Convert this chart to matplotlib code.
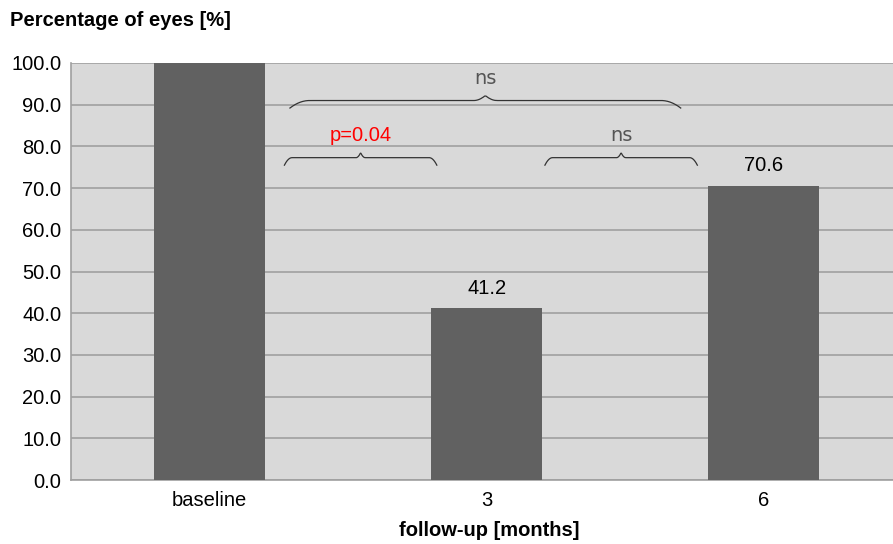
import numpy as np
import matplotlib.pyplot as plt

plt.rcParams['font.family'] = ['Liberation Sans', 'DejaVu Sans']

categories = ['baseline', '3', '6']
values = [100.0, 41.2, 70.6]
value_labels = ['', '41.2', '70.6']
yticks = np.arange(0, 101, 10)

# comparisons: (x start, x end, y base, label, colour)
brackets = [
    (0.29, 1.70, 89.2, 'ns', '#555555'),
    (0.27, 0.82, 75.5, 'p=0.04', 'red'),
    (1.21, 1.76, 75.5, 'ns', '#555555'),
]


def brace(ax, x0, x1, y, h):
    # curly brace drawn as a polyline
    t = np.linspace(0, 1, 300)
    xs = x0 + (x1 - x0) * t
    s = np.abs(t - 0.5) * 2
    ys = (y + h * (0.6 + 0.4 * (1 - np.clip(s / 0.06, 0, 1)) ** 2)
          - h * 0.6 * np.clip((s - 0.9) / 0.1, 0, 1) ** 2)
    ax.plot(xs, ys, color='#333333', lw=0.9)


fig = plt.figure(figsize=(8.93, 5.44), dpi=100)
ax = fig.add_axes([71 / 893, 64 / 544, 1 - 71 / 893, 417 / 544])
ax.set_facecolor('#d9d9d9')
x = np.arange(len(categories))
ax.bar(x, values, width=0.4, color='#616161', zorder=3)
for i, (v, lab) in enumerate(zip(values, value_labels)):
    if lab:
        ax.text(i, v + 4.8, lab, ha='center', va='center', fontsize=14.5)

ax.set_xlim(-0.5, 2.466)
ax.set_ylim(0, 100)
ax.set_yticks(yticks)
ax.set_yticklabels(['%.1f' % t for t in yticks], fontsize=14.5)
ax.set_xticks(x)
ax.set_xticklabels(categories, fontsize=14.5)
ax.tick_params(axis='y', length=0, pad=7)
ax.tick_params(axis='x', length=0, pad=8)
ax.yaxis.grid(True, color='#a0a0a0', lw=1.2, zorder=1)
for s in ['top', 'right']:
    ax.spines[s].set_visible(False)
for s in ['left', 'bottom']:
    ax.spines[s].set_color('#a0a0a0')
    ax.spines[s].set_linewidth(1.2)

for x0, x1, yb, lab, col in brackets:
    brace(ax, x0, x1, yb, 3.0)
    if col == 'red':
        ax.text((x0 + x1) / 2, yb + 7.2, lab, ha='center', va='center', color=col, fontsize=14.5)
    else:
        ax.text((x0 + x1) / 2, yb + 7.2, lab, ha='center', va='center', color=col,
                fontsize=14, family='DejaVu Sans')

fig.text(10 / 893, 1 - 20 / 544, 'Percentage of eyes [%]', fontsize=14.5, fontweight='bold', va='center')
fig.text(489 / 893, 1 - 531 / 544, 'follow-up [months]', fontsize=14.5, fontweight='bold',
         ha='center', va='center')

plt.savefig('out.png')
